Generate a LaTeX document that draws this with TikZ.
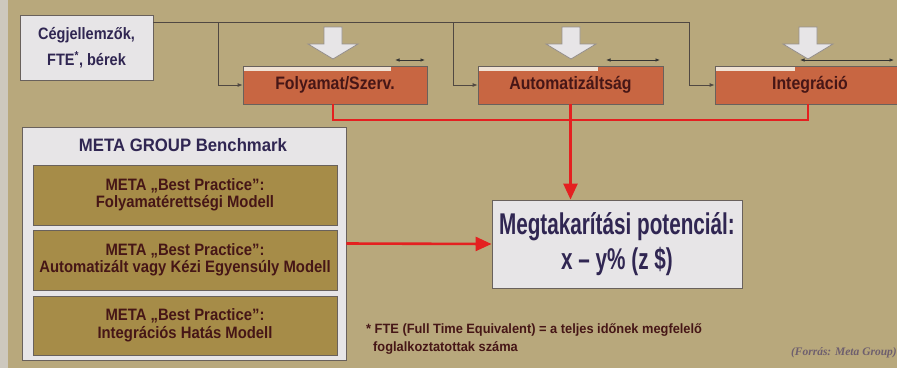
\documentclass[tikz,border=0pt]{standalone}
\usepackage{fontspec}
\setmainfont{Liberation Sans}
\newfontfamily\cgfont[FakeStretch=0.88]{Liberation Sans}
\newfontfamily\headfont[FakeStretch=0.93]{Liberation Sans}
\newfontfamily\procfont[FakeStretch=0.88]{Liberation Sans}
\newfontfamily\olivefont[FakeStretch=0.9]{Liberation Sans}
\newfontfamily\fnfont[FakeStretch=0.95]{Liberation Sans}
\newfontfamily\megfont[FakeStretch=0.69]{Liberation Sans}
\newfontfamily\serifit{Liberation Serif}
\usetikzlibrary{arrows.meta}
\definecolor{bgc}{RGB}{184,168,124}
\definecolor{edgec}{RGB}{205,200,190}
\definecolor{lightc}{RGB}{231,229,231}
\definecolor{borderc}{RGB}{105,97,92}
\definecolor{orangec}{RGB}{200,102,66}
\definecolor{tabc}{RGB}{240,226,212}
\definecolor{olivec}{RGB}{166,140,72}
\definecolor{purpc}{RGB}{48,38,82}
\definecolor{maroonc}{RGB}{70,22,22}
\definecolor{redc}{RGB}{228,32,32}
\definecolor{linec}{RGB}{80,72,66}
\definecolor{srcc}{RGB}{110,95,110}
\tikzset{
  lightbox/.style={draw=borderc, line width=0.9pt, fill=lightc, text=purpc, align=center, inner sep=0pt},
  procbox/.style={draw=borderc, line width=0.8pt, fill=orangec, text=maroonc, font=\procfont\bfseries\fontsize{18}{20}\selectfont, inner sep=0pt},
  olivebox/.style={draw=borderc, line width=0.8pt, fill=olivec, text=maroonc, font=\olivefont\bfseries\fontsize{16.5}{17.5}\selectfont, align=center, inner sep=0pt},
  feed/.style={draw=linec, line width=0.8pt, -{Latex[length=5pt,width=4pt]}},
  redline/.style={draw=redc, line width=2.6pt},
  redarrow/.style={draw=redc, line width=2.6pt, -{Triangle[length=16pt,width=14pt]}},
  hollow/.style={draw=borderc!70, line width=0.8pt, fill=lightc},
  tabarrow/.style={draw=black!80, line width=0.7pt, {Latex[length=4.5pt,width=3.5pt]}-{Latex[length=4.5pt,width=3.5pt]}},
}
\begin{document}
\begin{tikzpicture}[x=1pt,y=-1pt]
\useasboundingbox (0,0) rectangle (897,368);
\fill[bgc] (0,0) rectangle (897,368);
\fill[edgec] (0,0) rectangle (8,368);

% input box
\node[lightbox, minimum width=133pt, minimum height=65pt, font=\cgfont\bfseries\fontsize{16.5}{26}\selectfont] (cg) at (86.5,47.5) {Cégjellemzők,\\FTE\textsuperscript{*}, bérek};

% process boxes
\node[procbox, minimum width=184pt, minimum height=38pt] (fol) at (335,85) {Folyamat/Szerv.};
\node[procbox, minimum width=185pt, minimum height=38pt] (aut) at (570.5,85) {Automatizáltság};
\node[procbox, minimum width=190pt, minimum height=38pt] (int) at (810,85) {Integráció};

% tab strips and double arrows
\fill[tabc] (244,66.8) rectangle (391,70.5);
\fill[tabc] (479,66.8) rectangle (598,70.5);
\fill[tabc] (716,66.8) rectangle (795,70.5);
\coordinate (t1a) at (395,60); \coordinate (t1b) at (425,60);
\coordinate (t2a) at (606,60); \coordinate (t2b) at (660,60);
\coordinate (t3a) at (800,60); \coordinate (t3b) at (894,60);
\draw[tabarrow] (t1a) -- (t1b);
\draw[tabarrow] (t2a) -- (t2b);
\draw[tabarrow] (t3a) -- (t3b);

% hollow arrows
\foreach \c in {333,571,808}{
  \draw[hollow] (\c-9,27) -- (\c+9,27) -- (\c+9,44) -- (\c+25,44) -- (\c,59) -- (\c-25,44) -- (\c-9,44) -- cycle;
}

% feed lines
\coordinate (j1) at (218,22);
\coordinate (j2) at (453,22);
\coordinate (j3) at (689,22);
\draw[draw=linec, line width=0.8pt] (cg.east |- j1) -- (j3);
\draw[feed] (j1) |- (fol.west);
\draw[feed] (j2) |- (aut.west);
\draw[feed] (j3) |- (int.west);

% benchmark
\node[lightbox, minimum width=324pt, minimum height=233pt] (meta) at (184,243.5) {};
\node[text=purpc, font=\headfont\bfseries\fontsize{18}{20}\selectfont] (metat) at (183,145) {META GROUP Benchmark};
\node[olivebox, minimum width=304pt, minimum height=60pt] (b1) at (185,195) {META „Best Practice”:\\Folyamatérettségi Modell};
\node[olivebox, minimum width=304pt, minimum height=60pt] (b2) at (185,260) {META „Best Practice”:\\Automatizált vagy Kézi Egyensúly Modell};
\node[olivebox, minimum width=304pt, minimum height=59pt] (b3) at (185,325.5) {META „Best Practice”:\\Integrációs Hatás Modell};

% result
\node[lightbox, minimum width=250pt, minimum height=88pt, font=\megfont\bfseries\fontsize{30}{35}\selectfont] (meg) at (617,244) {Megtakarítási potenciál:\\x – y\% (z \$)};

% red connectors
\coordinate (r1) at (333,120);
\coordinate (r3) at (808,120);
\draw[redline] (fol.south -| r1) -- (r1) -- (r3) -- (int.south -| r3);
\draw[redarrow] (aut.south) -- (aut.south |- meg.north);
\draw[redarrow] (meta.east) -- (meg.west);

% footnote
\node[anchor=north west, text=maroonc, font=\fnfont\bfseries\fontsize{13.5}{18}\selectfont, align=left, inner sep=0pt] (fn) at (366,324) {* FTE (Full Time Equivalent) = a teljes időnek megfelelő\\\hspace*{7pt}foglalkoztatottak száma};
\node[anchor=east, text=srcc, font=\serifit\bfseries\itshape\fontsize{11.5}{13}\selectfont, inner sep=0pt] (src) at (897,353) {(Forrás: Meta Group)};
\end{tikzpicture}
\end{document}
